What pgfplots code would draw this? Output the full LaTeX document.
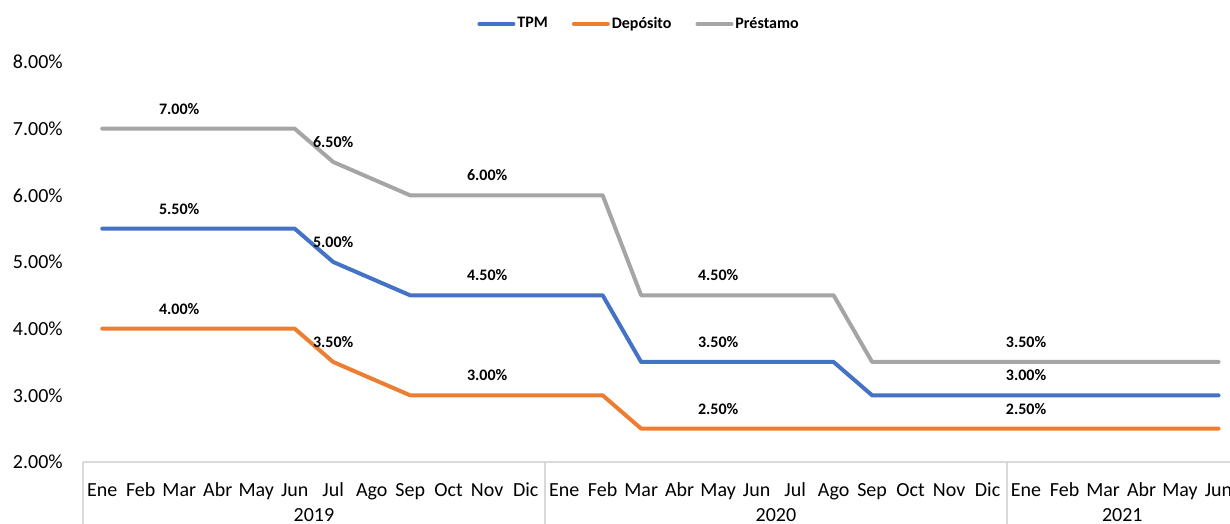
\documentclass[border=0pt]{standalone}
\usepackage{pgfplots}
\usepackage{pgfplotstable}
\pgfplotsset{compat=1.18}
\usepackage{fontspec}
\setmainfont{Carlito}
\definecolor{cTPM}{HTML}{4472C4}
\definecolor{cDep}{HTML}{ED7D31}
\definecolor{cPre}{HTML}{A5A5A5}
\definecolor{axgray}{HTML}{D9D9D9}

\pgfplotstableread{
x tpm dep pre
0 5.50 4.00 7.00
1 5.50 4.00 7.00
2 5.50 4.00 7.00
3 5.50 4.00 7.00
4 5.50 4.00 7.00
5 5.50 4.00 7.00
6 5.00 3.50 6.50
7 4.75 3.25 6.25
8 4.50 3.00 6.00
9 4.50 3.00 6.00
10 4.50 3.00 6.00
11 4.50 3.00 6.00
12 4.50 3.00 6.00
13 4.50 3.00 6.00
14 3.50 2.50 4.50
15 3.50 2.50 4.50
16 3.50 2.50 4.50
17 3.50 2.50 4.50
18 3.50 2.50 4.50
19 3.50 2.50 4.50
20 3.00 2.50 3.50
21 3.00 2.50 3.50
22 3.00 2.50 3.50
23 3.00 2.50 3.50
24 3.00 2.50 3.50
25 3.00 2.50 3.50
26 3.00 2.50 3.50
27 3.00 2.50 3.50
28 3.00 2.50 3.50
29 3.00 2.50 3.50
}\ratetable

\pgfplotstableread{
x tpm dep pre
2 5.50 4.00 7.00
6 5.00 3.50 6.50
10 4.50 3.00 6.00
16 3.50 2.50 4.50
24 3.00 2.50 3.50
}\labeltable

\pgfplotsset{labelstyle/.style={draw=none, mark=none, forget plot,
   nodes near coords={\pgfmathprintnumber[fixed,fixed zerofill,precision=2]{\pgfplotspointmeta}\%},
   point meta=y,
   nodes near coords style={font=\bfseries\fontsize{8}{10}\selectfont, anchor=center, yshift=10pt, black}}}

\begin{document}
\begin{tikzpicture}
\clip (0,0) rectangle (615pt,262pt);
\begin{axis}[
  at={(41.5pt,31pt)}, anchor=south west,
  scale only axis, width=577.4pt, height=200pt,
  xmin=-0.5, xmax=29.5, ymin=2, ymax=8,
  clip=false,
  axis x line*=bottom, axis y line*=left,
  y axis line style={draw=none},
  x axis line style={draw=axgray, line width=0.7pt, -},
  /pgf/number format/assume math mode=true,
  ytick={2,3,4,5,6,7,8},
  ytick style={draw=none},
  yticklabel={\pgfmathprintnumber[fixed,fixed zerofill,precision=2]{\tick}\%},
  yticklabel style={font=\fontsize{10}{12}\selectfont, xshift=-6.6pt},
  xtick={0,...,29},
  xticklabels={Ene,Feb,Mar,Abr,May,Jun,Jul,Ago,Sep,Oct,Nov,Dic,Ene,Feb,Mar,Abr,May,Jun,Jul,Ago,Sep,Oct,Nov,Dic,Ene,Feb,Mar,Abr,May,Jun},
  xticklabel style={font=\fontsize{10}{12}\selectfont, anchor=base, yshift=-17.2pt},
  major tick length=0pt,
  extra x ticks={-0.5,11.5,23.5},
  extra x tick labels={},
  extra x tick style={major tick length=40pt, tick align=outside, tick style={draw=axgray, line width=0.7pt}},
  legend style={at={(0.4815,1.095)}, anchor=center, draw=none, fill=none,
    legend columns=3, font=\bfseries\fontsize{8}{10}\selectfont,
    /tikz/every even column/.append style={column sep=11pt},
    nodes={inner sep=1pt}},
  legend image code/.code={\draw[#1, line width=2pt] (0pt,0pt) -- (17pt,0pt);},
  every axis plot/.append style={line width=2pt, line join=round, line cap=round},
]
\addplot[cTPM, mark=none] table[x=x, y=tpm] {\ratetable};
\addplot[cDep, mark=none] table[x=x, y=dep] {\ratetable};
\addplot[cPre, mark=none] table[x=x, y=pre] {\ratetable};
\legend{TPM, Depósito, Préstamo}
\addplot[labelstyle] table[x=x, y=tpm] {\labeltable};
\addplot[labelstyle] table[x=x, y=dep] {\labeltable};
\addplot[labelstyle] table[x=x, y=pre] {\labeltable};
\node[anchor=base, font=\fontsize{10}{12}\selectfont] at (axis cs:5.5,2) [yshift=-29.5pt] {2019};
\node[anchor=base, font=\fontsize{10}{12}\selectfont] at (axis cs:17.5,2) [yshift=-29.5pt] {2020};
\node[anchor=base, font=\fontsize{10}{12}\selectfont] at (axis cs:26.5,2) [yshift=-29.5pt] {2021};
\end{axis}
\end{tikzpicture}
\end{document}
